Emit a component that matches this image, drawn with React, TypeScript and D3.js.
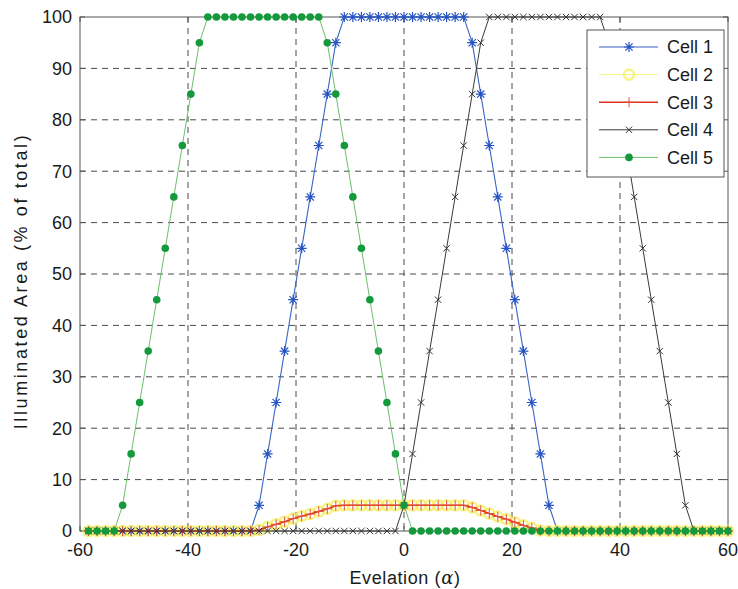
import React from "react";
import * as d3 from "d3";

const elevation = [
  -58.42, -56.84, -55.26, -53.68, -52.11, -50.53, -48.95, -47.37, -45.79, -44.21,
  -42.63, -41.05, -39.47, -37.89, -36.32, -34.74, -33.16, -31.58, -30.0, -28.42,
  -26.84, -25.26, -23.68, -22.11, -20.53, -18.95, -17.37, -15.79, -14.21, -12.63,
  -11.05, -9.47, -7.89, -6.32, -4.74, -3.16, -1.58, 0, 1.58, 3.16,
  4.74, 6.32, 7.89, 9.47, 11.05, 12.63, 14.21, 15.79, 17.37, 18.95,
  20.53, 22.11, 23.68, 25.26, 26.84, 28.42, 30.0, 31.58, 33.16, 34.74,
  36.32, 37.89, 39.47, 41.05, 42.63, 44.21, 45.79, 47.37, 48.95, 50.53,
  52.11, 53.68, 55.26, 56.84, 58.42, 60.0,
];

const cell1 = [
  0, 0, 0, 0, 0, 0, 0, 0, 0, 0, 0, 0, 0, 0, 0, 0, 0, 0, 0, 0,
  5, 15, 25, 35, 45, 55, 65, 75, 85, 95,
  100, 100, 100, 100, 100, 100, 100, 100, 100, 100, 100, 100, 100, 100, 100,
  95, 85, 75, 65, 55, 45, 35, 25, 15, 5,
  0, 0, 0, 0, 0, 0, 0, 0, 0, 0, 0, 0, 0, 0, 0, 0, 0, 0, 0, 0, 0,
];

const cell3 = [
  0, 0, 0, 0, 0, 0, 0, 0, 0, 0, 0, 0, 0, 0, 0, 0, 0, 0, 0, 0,
  0.2, 0.8, 1.3, 1.8, 2.4, 2.9, 3.3, 3.8, 4.3, 4.9,
  5, 5, 5, 5, 5, 5, 5, 5, 5, 5, 5, 5, 5, 5, 5,
  4.6, 4.0, 3.4, 2.8, 2.3, 1.7, 1.1, 0.6, 0.1,
  0, 0, 0, 0, 0, 0, 0, 0, 0, 0, 0, 0, 0, 0, 0, 0, 0, 0, 0, 0, 0, 0,
];

const cell2 = [
  0, 0, 0, 0, 0, 0, 0, 0, 0, 0, 0, 0, 0, 0, 0, 0, 0, 0, 0, 0,
  0.2, 0.8, 1.3, 1.8, 2.4, 2.9, 3.3, 3.8, 4.3, 4.9,
  5, 5, 5, 5, 5, 5, 5, 5, 5, 5, 5, 5, 5, 5, 5,
  4.6, 4.0, 3.4, 2.8, 2.3, 1.7, 1.1, 0.6, 0.1,
  0, 0, 0, 0, 0, 0, 0, 0, 0, 0, 0, 0, 0, 0, 0, 0, 0, 0, 0, 0, 0, 0,
];

const cell4 = [
  0, 0, 0, 0, 0, 0, 0, 0, 0, 0, 0, 0, 0, 0, 0, 0, 0, 0, 0, 0,
  0, 0, 0, 0, 0, 0, 0, 0, 0, 0, 0, 0, 0, 0, 0, 0, 0,
  5, 15, 25, 35, 45, 55, 65, 75, 85, 95,
  100, 100, 100, 100, 100, 100, 100, 100, 100, 100, 100, 100, 100, 100,
  95, 85, 75, 65, 55, 45, 35, 25, 15, 5,
  0, 0, 0, 0, 0,
];

const cell5 = [
  0, 0, 0, 0,
  5, 15, 25, 35, 45, 55, 65, 75, 85, 95,
  100, 100, 100, 100, 100, 100, 100, 100, 100, 100, 100, 100, 100, 100,
  95, 85, 75, 65, 55, 45, 35, 25, 15, 5,
  0, 0, 0, 0, 0, 0, 0, 0, 0, 0, 0, 0, 0, 0, 0, 0, 0, 0, 0, 0,
  0, 0, 0, 0, 0, 0, 0, 0, 0, 0, 0, 0, 0, 0, 0, 0, 0, 0,
];

const seriesNames = ["Cell 1", "Cell 2", "Cell 3", "Cell 4", "Cell 5"];
const xTicks = [-60, -40, -20, 0, 20, 40, 60];
const yTicks = [0, 10, 20, 30, 40, 50, 60, 70, 80, 90, 100];

const W = 738;
const H = 589;
const L = 80, R = 728, T = 17, B = 531;
const FONT = "'Liberation Sans', Arial, Helvetica, sans-serif";

type MarkerKind = "star" | "circle" | "plus" | "x" | "dot";

function Marker({ kind, x, y, color }: { kind: MarkerKind; x: number; y: number; color: string }) {
  if (kind === "star") {
    const s = 5;
    const d = 3.6;
    return (
      <path
        d={`M${x - s},${y}H${x + s}M${x},${y - s}V${y + s}M${x - d},${y - d}L${x + d},${y + d}M${x - d},${y + d}L${x + d},${y - d}`}
        stroke={color}
        strokeWidth={1.2}
        fill="none"
      />
    );
  }
  if (kind === "plus") {
    const s = 5;
    return <path d={`M${x - s},${y}H${x + s}M${x},${y - s}V${y + s}`} stroke={color} strokeWidth={1} fill="none" />;
  }
  if (kind === "x") {
    const d = 3.2;
    return (
      <path
        d={`M${x - d},${y - d}L${x + d},${y + d}M${x - d},${y + d}L${x + d},${y - d}`}
        stroke={color}
        strokeWidth={1}
        fill="none"
      />
    );
  }
  if (kind === "circle") {
    return <circle cx={x} cy={y} r={5} stroke={color} strokeWidth={2.6} fill="none" opacity={0.7} />;
  }
  return <circle cx={x} cy={y} r={3.8} fill={color} stroke="none" />;
}

export default function App() {
  const x = d3.scaleLinear().domain([-60, 60]).range([L, R]);
  const y = d3.scaleLinear().domain([0, 100]).range([B, T]);

  const series = [
    { name: seriesNames[0], values: cell1, line: "#3a64c4", mark: "#2454c4", kind: "star" as MarkerKind, lw: 1.1 },
    { name: seriesNames[1], values: cell2, line: "#f6f37a", mark: "#f3ee55", kind: "circle" as MarkerKind, lw: 1 },
    { name: seriesNames[2], values: cell3, line: "#e0311e", mark: "#e0503a", kind: "plus" as MarkerKind, lw: 1.4 },
    { name: seriesNames[3], values: cell4, line: "#3a3a3a", mark: "#333333", kind: "x" as MarkerKind, lw: 1 },
    { name: seriesNames[4], values: cell5, line: "#6cbf6c", mark: "#15993d", kind: "dot" as MarkerKind, lw: 1 },
  ];

  const lineGen = (vals: number[]) =>
    d3
      .line<number>()
      .x((_, i) => x(elevation[i]))
      .y((v) => y(v))(vals) || "";

  const legX = 587, legY = 30, legW = 137, legH = 147;
  const legRow = 27.6;

  return (
    <svg
      width={W}
      height={H}
      viewBox={`0 0 ${W} ${H}`}
      style={{ position: "absolute", left: 0, top: 0, background: "#fff" }}
      fontFamily={FONT}
    >
      <rect x={0} y={0} width={W} height={H} fill="#fff" />
      {/* grid */}
      {xTicks.slice(1, -1).map((t) => (
        <line key={"gx" + t} x1={x(t)} x2={x(t)} y1={T} y2={B} stroke="#4a4a4a" strokeWidth={1} strokeDasharray="6,5" />
      ))}
      {yTicks.slice(1, -1).map((t) => (
        <line key={"gy" + t} x1={L} x2={R} y1={y(t)} y2={y(t)} stroke="#4a4a4a" strokeWidth={1} strokeDasharray="6,5" />
      ))}
      {/* ticks */}
      {xTicks.map((t) => (
        <g key={"tx" + t}>
          <line x1={x(t)} x2={x(t)} y1={B} y2={B - 5} stroke="#555" />
          <line x1={x(t)} x2={x(t)} y1={T} y2={T + 5} stroke="#555" />
        </g>
      ))}
      {yTicks.map((t) => (
        <g key={"ty" + t}>
          <line x1={L} x2={L + 5} y1={y(t)} y2={y(t)} stroke="#555" />
          <line x1={R} x2={R - 5} y1={y(t)} y2={y(t)} stroke="#555" />
        </g>
      ))}
      {/* box */}
      <rect x={L} y={T} width={R - L} height={B - T} fill="none" stroke="#555" strokeWidth={1} />

      {/* series */}
      {series.map((s) => (
        <g key={s.name}>
          <path d={lineGen(s.values)} fill="none" stroke={s.line} strokeWidth={s.lw} />
          {s.values.map((v, i) => (
            <Marker key={i} kind={s.kind} x={x(elevation[i])} y={y(v)} color={s.mark} />
          ))}
        </g>
      ))}

      {/* tick labels */}
      {xTicks.map((t) => (
        <text key={"lx" + t} x={x(t)} y={556} textAnchor="middle" fontSize={18} fill="#1a1a1a">
          {t}
        </text>
      ))}
      {yTicks.map((t) => (
        <text key={"ly" + t} x={72} y={y(t)} dy="0.36em" textAnchor="end" fontSize={18} fill="#1a1a1a">
          {t}
        </text>
      ))}

      {/* axis labels */}
      <text x={405} y={584} textAnchor="middle" fontSize={18} letterSpacing={0.6} fill="#1a1a1a">
        Evelation (<tspan fontStyle="italic" fontFamily="'DejaVu Serif', serif">α</tspan>)
      </text>
      <text
        transform={`translate(27,${(T + B) / 2 + 7}) rotate(-90)`}
        textAnchor="middle"
        fontSize={18}
        letterSpacing={2.6}
        fill="#1a1a1a"
      >
        Illuminated Area (% of total)
      </text>

      {/* legend */}
      <rect x={legX} y={legY} width={legW} height={legH} fill="#fff" stroke="#555" strokeWidth={1} />
      {series.map((s, i) => {
        const cy = legY + 17 + i * legRow;
        return (
          <g key={"leg" + s.name}>
            <line x1={599} x2={658} y1={cy} y2={cy} stroke={s.line} strokeWidth={s.lw} />
            <Marker kind={s.kind} x={629} y={cy} color={s.mark} />
            <text x={667} y={cy} dy="0.36em" fontSize={18} fill="#1a1a1a">
              {s.name}
            </text>
          </g>
        );
      })}
    </svg>
  );
}
